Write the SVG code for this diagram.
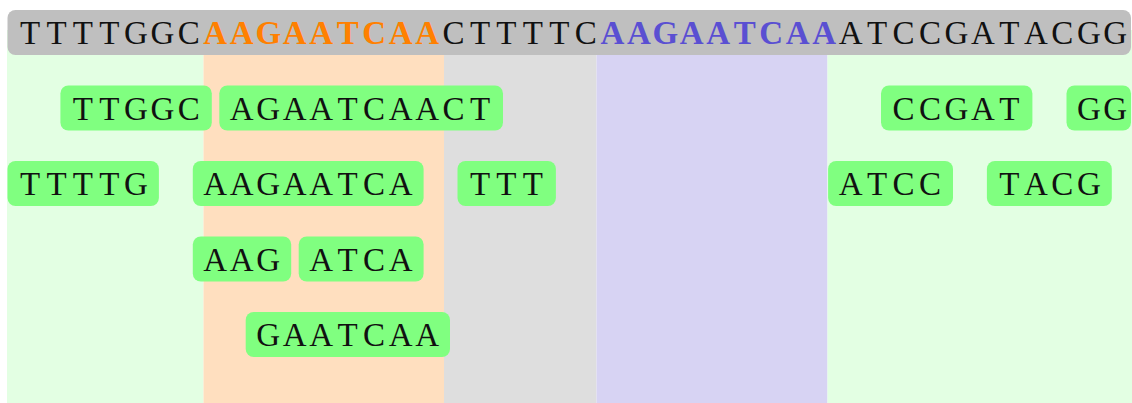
<svg xmlns="http://www.w3.org/2000/svg" width="1132" height="403" viewBox="0 0 1132 403">
<style>
.bg{stroke:none}
.node rect{fill:#80ff80}
.seq{font-family:"Liberation Serif","Times New Roman",serif;font-size:33px;fill:#111;text-anchor:middle}
.hl1{fill:#ff8000;font-weight:bold}
.hl2{fill:#5a4fd2;font-weight:bold}
</style>
<g id="background">
<rect class="bg" x="7" y="30" width="196.5" height="373" fill="#e3ffe3"/>
<rect class="bg" x="203.5" y="30" width="240.5" height="373" fill="#ffdfbf"/>
<rect class="bg" x="444" y="30" width="152.5" height="373" fill="#dedede"/>
<rect class="bg" x="596.5" y="30" width="231" height="373" fill="#d7d3f3"/>
<rect class="bg" x="827.5" y="30" width="304.5" height="373" fill="#e3ffe3"/>
</g>
<g id="header">
<rect x="7.5" y="10" width="1123.5" height="45" rx="8" fill="#bfbfbf"/>
<text class="seq" y="44"><tspan x="30 56.47 82.94 109.41 135.88 162.35 188.82">TTTTGGC</tspan><tspan class="hl1" x="215.29 241.76 268.23 294.7 321.17 347.64 374.11 400.58 427.05">AAGAATCAA</tspan><tspan x="453.52 479.99 506.46 532.93 559.4 585.87">CTTTTC</tspan><tspan class="hl2" x="612.34 638.81 665.28 691.75 718.22 744.69 771.16 797.63 824.1">AAGAATCAA</tspan><tspan x="850.57 877.04 903.51 929.98 956.45 982.92 1009.39 1035.86 1062.33 1088.8 1115.27">ATCCGATACGG</tspan></text>
</g>
<g id="connectors"/>
<g id="n_TTGGC" class="node"><rect x="60.4" y="85.5" width="151.4" height="45" rx="8"/><text class="seq" y="119.5" x="82.94 109.41 135.88 162.35 188.82">TTGGC</text></g>
<g id="n_AGAATCAACT" class="node"><rect x="219.3" y="85.5" width="283.7" height="45" rx="8"/><text class="seq" y="119.5" x="241.76 268.23 294.7 321.17 347.64 374.11 400.58 427.05 453.52 479.99">AGAATCAACT</text></g>
<g id="n_CCGAT" class="node"><rect x="881" y="85.5" width="151.4" height="45" rx="8"/><text class="seq" y="119.5" x="903.51 929.98 956.45 982.92 1009.39">CCGAT</text></g>
<g id="n_GG" class="node"><rect x="1066.5" y="85.5" width="64.5" height="45" rx="8"/><text class="seq" y="119.5" x="1088.8 1115.27">GG</text></g>
<g id="n_TTTTG" class="node"><rect x="7.5" y="161" width="151.4" height="45" rx="8"/><text class="seq" y="195" x="30 56.47 82.94 109.41 135.88">TTTTG</text></g>
<g id="n_AAGAATCA" class="node"><rect x="192.8" y="161" width="230.8" height="45" rx="8"/><text class="seq" y="195" x="215.29 241.76 268.23 294.7 321.17 347.64 374.11 400.58">AAGAATCA</text></g>
<g id="n_TTT" class="node"><rect x="457.5" y="161" width="98.4" height="45" rx="8"/><text class="seq" y="195" x="479.99 506.46 532.93">TTT</text></g>
<g id="n_ATCC" class="node"><rect x="828.1" y="161" width="124.9" height="45" rx="8"/><text class="seq" y="195" x="850.57 877.04 903.51 929.98">ATCC</text></g>
<g id="n_TACG" class="node"><rect x="986.9" y="161" width="124.9" height="45" rx="8"/><text class="seq" y="195" x="1009.39 1035.86 1062.33 1088.8">TACG</text></g>
<g id="n_AAG" class="node"><rect x="192.8" y="236.5" width="98.4" height="45" rx="8"/><text class="seq" y="270.5" x="215.29 241.76 268.23">AAG</text></g>
<g id="n_ATCA" class="node"><rect x="298.7" y="236.5" width="124.9" height="45" rx="8"/><text class="seq" y="270.5" x="321.17 347.64 374.11 400.58">ATCA</text></g>
<g id="n_GAATCAA" class="node"><rect x="245.7" y="312" width="204.3" height="45" rx="8"/><text class="seq" y="346" x="268.23 294.7 321.17 347.64 374.11 400.58 427.05">GAATCAA</text></g>
</svg>
